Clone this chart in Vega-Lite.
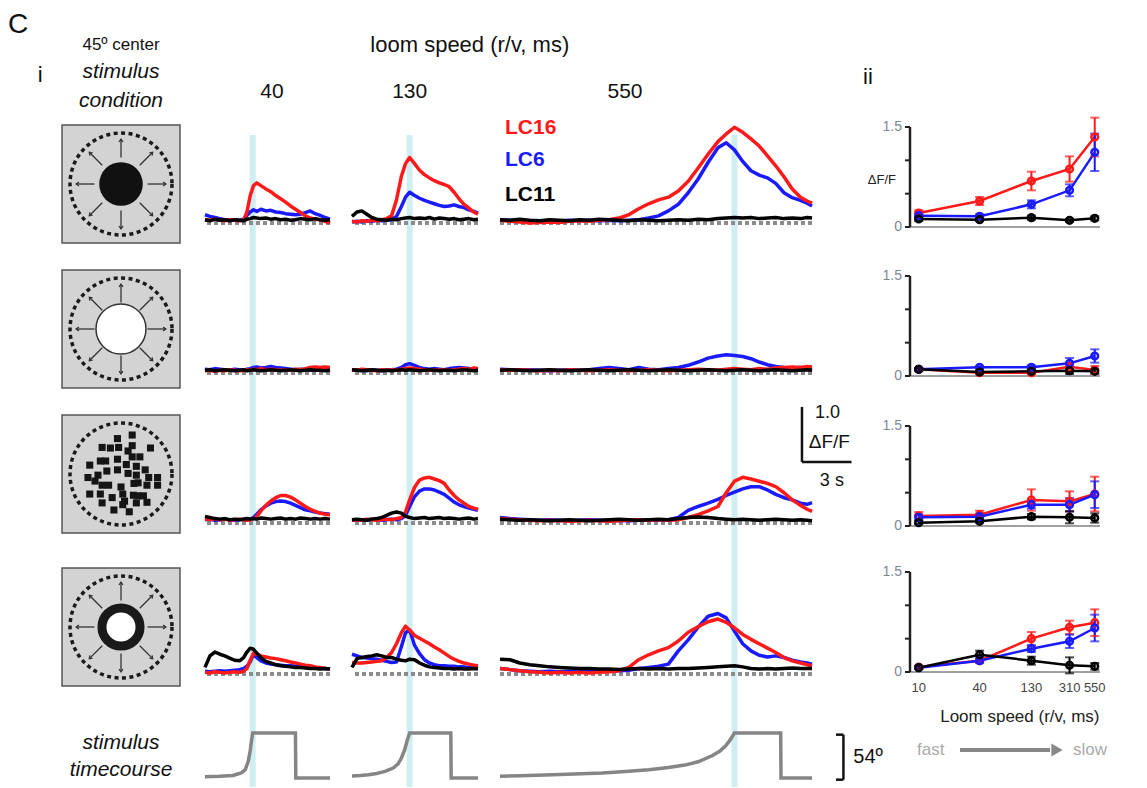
{
"$schema":"https://vega.github.io/schema/vega-lite/v6.json",
"padding":{"left":8,"top":11,"right":5,"bottom":0},
"config":{"font":"Liberation Sans","view":{"stroke":null},"text":{"font":"Liberation Sans","color":"#111"},"axis":{"grid":false,"labelFont":"Liberation Sans","titleFont":"Liberation Sans"}},
"datasets":{
"one":[{"k":1}],
"xt":[{"x":10},{"x":40},{"x":130},{"x":310},{"x":550}],
"yt":[{"v":0},{"v":0.5},{"v":1},{"v":1.5}],
"yl":[{"v":0,"l":"0"},{"v":1.5,"l":"1.5"}],
"arr":[{"x":0.45,"y":0,"x2":0.76,"y2":0,"d":"E"},{"x":0.318,"y":0.318,"x2":0.537,"y2":0.537,"d":"NE"},{"x":0,"y":0.45,"x2":0,"y2":0.76,"d":"N"},{"x":-0.318,"y":0.318,"x2":-0.537,"y2":0.537,"d":"NW"},{"x":-0.45,"y":0,"x2":-0.76,"y2":0,"d":"W"},{"x":-0.318,"y":-0.318,"x2":-0.537,"y2":-0.537,"d":"SW"},{"x":0,"y":-0.45,"x2":0,"y2":-0.76,"d":"S"},{"x":0.318,"y":-0.318,"x2":0.537,"y2":-0.537,"d":"SE"}],
"sq":[{"x":-0.06,"y":0.6},{"x":0.19,"y":0.66},{"x":-0.32,"y":0.45},{"x":-0.18,"y":0.44},{"x":-0.04,"y":0.45},{"x":0.19,"y":0.48},{"x":0.5,"y":0.44},{"x":0.12,"y":0.39},{"x":-0.35,"y":0.22},{"x":-0.26,"y":0.22},{"x":-0.06,"y":0.25},{"x":0.19,"y":0.29},{"x":0.32,"y":0.29},{"x":-0.53,"y":0.15},{"x":0.09,"y":0.16},{"x":0.26,"y":0.13},{"x":0.41,"y":0.07},{"x":-0.39,"y":-0.02},{"x":-0.24,"y":0.05},{"x":-0.06,"y":0.07},{"x":0.12,"y":0.01},{"x":0.26,"y":-0.02},{"x":-0.56,"y":-0.06},{"x":0.22,"y":-0.16},{"x":0.47,"y":-0.06},{"x":0.62,"y":-0.06},{"x":-0.32,"y":-0.19},{"x":-0.21,"y":-0.19},{"x":0.0,"y":-0.22},{"x":0.29,"y":-0.15},{"x":0.44,"y":-0.19},{"x":0.62,"y":-0.19},{"x":-0.53,"y":-0.34},{"x":-0.35,"y":-0.34},{"x":0.03,"y":-0.34},{"x":0.21,"y":-0.36},{"x":0.29,"y":-0.37},{"x":-0.15,"y":-0.4},{"x":0.06,"y":-0.46},{"x":0.44,"y":-0.48},{"x":-0.32,"y":-0.49},{"x":0.03,"y":-0.52},{"x":-0.12,"y":-0.61},{"x":0.14,"y":-0.64},{"x":0.26,"y":-0.49},{"x":-0.44,"y":-0.12},{"x":0.38,"y":-0.37}],
"tc":[
{"s":40,"t":-2.9,"deg":1.5},{"s":40,"t":-2.0,"deg":2},{"s":40,"t":-1.2,"deg":3},{"s":40,"t":-0.7,"deg":6},{"s":40,"t":-0.45,"deg":10},{"s":40,"t":-0.27,"deg":20},{"s":40,"t":-0.15,"deg":33},{"s":40,"t":-0.07,"deg":45},{"s":40,"t":0,"deg":54},{"s":40,"t":2.6,"deg":54},{"s":40,"t":2.62,"deg":0},{"s":40,"t":4.7,"deg":0},
{"s":130,"t":-3.5,"deg":2.5},{"s":130,"t":-3.0,"deg":3},{"s":130,"t":-2.5,"deg":4},{"s":130,"t":-2.0,"deg":5.5},{"s":130,"t":-1.5,"deg":8},{"s":130,"t":-1.0,"deg":12},{"s":130,"t":-0.7,"deg":17},{"s":130,"t":-0.5,"deg":24},{"s":130,"t":-0.3,"deg":34},{"s":130,"t":-0.15,"deg":45},{"s":130,"t":0,"deg":54},{"s":130,"t":2.5,"deg":54},{"s":130,"t":2.52,"deg":0},{"s":130,"t":4.15,"deg":0},
{"s":550,"t":-14.2,"deg":2},{"s":550,"t":-13.0,"deg":2.7},{"s":550,"t":-11.0,"deg":3.8},{"s":550,"t":-9.3,"deg":5},{"s":550,"t":-8.0,"deg":6},{"s":550,"t":-6.6,"deg":7.7},{"s":550,"t":-5.2,"deg":10},{"s":550,"t":-4.0,"deg":12.7},{"s":550,"t":-3.0,"deg":15.5},{"s":550,"t":-2.2,"deg":19.5},{"s":550,"t":-1.33,"deg":27},{"s":550,"t":-0.9,"deg":32},{"s":550,"t":-0.53,"deg":38.6},{"s":550,"t":-0.25,"deg":46},{"s":550,"t":0,"deg":54},{"s":550,"t":2.8,"deg":54},{"s":550,"t":2.82,"deg":0},{"s":550,"t":4.7,"deg":0}],
"sm":[
{"r":1,"c":"LC16","x":10,"m":0.21,"lo":0.17,"hi":0.25},{"r":1,"c":"LC16","x":40,"m":0.39,"lo":0.33,"hi":0.45},{"r":1,"c":"LC16","x":130,"m":0.69,"lo":0.55,"hi":0.83},{"r":1,"c":"LC16","x":310,"m":0.87,"lo":0.68,"hi":1.06},{"r":1,"c":"LC16","x":550,"m":1.35,"lo":1.06,"hi":1.64},
{"r":1,"c":"LC6","x":10,"m":0.17,"lo":0.14,"hi":0.2},{"r":1,"c":"LC6","x":40,"m":0.16,"lo":0.13,"hi":0.19},{"r":1,"c":"LC6","x":130,"m":0.34,"lo":0.28,"hi":0.4},{"r":1,"c":"LC6","x":310,"m":0.55,"lo":0.46,"hi":0.64},{"r":1,"c":"LC6","x":550,"m":1.12,"lo":0.84,"hi":1.4},
{"r":1,"c":"LC11","x":10,"m":0.12,"lo":0.09,"hi":0.15},{"r":1,"c":"LC11","x":40,"m":0.11,"lo":0.09,"hi":0.13},{"r":1,"c":"LC11","x":130,"m":0.14,"lo":0.11,"hi":0.17},{"r":1,"c":"LC11","x":310,"m":0.1,"lo":0.08,"hi":0.12},{"r":1,"c":"LC11","x":550,"m":0.13,"lo":0.1,"hi":0.16},
{"r":2,"c":"LC16","x":10,"m":0.1,"lo":0.08,"hi":0.12},{"r":2,"c":"LC16","x":40,"m":0.05,"lo":0.03,"hi":0.07},{"r":2,"c":"LC16","x":130,"m":0.05,"lo":0.03,"hi":0.07},{"r":2,"c":"LC16","x":310,"m":0.14,"lo":0.1,"hi":0.18},{"r":2,"c":"LC16","x":550,"m":0.09,"lo":0.03,"hi":0.15},
{"r":2,"c":"LC6","x":10,"m":0.1,"lo":0.08,"hi":0.12},{"r":2,"c":"LC6","x":40,"m":0.13,"lo":0.11,"hi":0.15},{"r":2,"c":"LC6","x":130,"m":0.13,"lo":0.1,"hi":0.16},{"r":2,"c":"LC6","x":310,"m":0.19,"lo":0.11,"hi":0.27},{"r":2,"c":"LC6","x":550,"m":0.3,"lo":0.2,"hi":0.4},
{"r":2,"c":"LC11","x":10,"m":0.1,"lo":0.08,"hi":0.12},{"r":2,"c":"LC11","x":40,"m":0.06,"lo":0.04,"hi":0.08},{"r":2,"c":"LC11","x":130,"m":0.07,"lo":0.05,"hi":0.09},{"r":2,"c":"LC11","x":310,"m":0.08,"lo":0.03,"hi":0.13},{"r":2,"c":"LC11","x":550,"m":0.07,"lo":0.04,"hi":0.1},
{"r":3,"c":"LC16","x":10,"m":0.15,"lo":0.09,"hi":0.21},{"r":3,"c":"LC16","x":40,"m":0.17,"lo":0.11,"hi":0.23},{"r":3,"c":"LC16","x":130,"m":0.39,"lo":0.23,"hi":0.55},{"r":3,"c":"LC16","x":310,"m":0.37,"lo":0.22,"hi":0.52},{"r":3,"c":"LC16","x":550,"m":0.48,"lo":0.22,"hi":0.74},
{"r":3,"c":"LC6","x":10,"m":0.13,"lo":0.09,"hi":0.17},{"r":3,"c":"LC6","x":40,"m":0.14,"lo":0.1,"hi":0.18},{"r":3,"c":"LC6","x":130,"m":0.32,"lo":0.26,"hi":0.38},{"r":3,"c":"LC6","x":310,"m":0.32,"lo":0.22,"hi":0.42},{"r":3,"c":"LC6","x":550,"m":0.47,"lo":0.27,"hi":0.67},
{"r":3,"c":"LC11","x":10,"m":0.05,"lo":0.03,"hi":0.07},{"r":3,"c":"LC11","x":40,"m":0.07,"lo":0.05,"hi":0.09},{"r":3,"c":"LC11","x":130,"m":0.14,"lo":0.1,"hi":0.18},{"r":3,"c":"LC11","x":310,"m":0.13,"lo":0.04,"hi":0.22},{"r":3,"c":"LC11","x":550,"m":0.12,"lo":0.05,"hi":0.19},
{"r":4,"c":"LC16","x":10,"m":0.075,"lo":0.055,"hi":0.095},{"r":4,"c":"LC16","x":40,"m":0.17,"lo":0.14,"hi":0.2},{"r":4,"c":"LC16","x":130,"m":0.5,"lo":0.4,"hi":0.6},{"r":4,"c":"LC16","x":310,"m":0.67,"lo":0.57,"hi":0.77},{"r":4,"c":"LC16","x":550,"m":0.74,"lo":0.54,"hi":0.94},
{"r":4,"c":"LC6","x":10,"m":0.065,"lo":0.045,"hi":0.085},{"r":4,"c":"LC6","x":40,"m":0.17,"lo":0.14,"hi":0.2},{"r":4,"c":"LC6","x":130,"m":0.35,"lo":0.3,"hi":0.4},{"r":4,"c":"LC6","x":310,"m":0.46,"lo":0.36,"hi":0.56},{"r":4,"c":"LC6","x":550,"m":0.66,"lo":0.46,"hi":0.86},
{"r":4,"c":"LC11","x":10,"m":0.065,"lo":0.045,"hi":0.085},{"r":4,"c":"LC11","x":40,"m":0.26,"lo":0.2,"hi":0.32},{"r":4,"c":"LC11","x":130,"m":0.17,"lo":0.11,"hi":0.23},{"r":4,"c":"LC11","x":310,"m":0.1,"lo":-0.02,"hi":0.22},{"r":4,"c":"LC11","x":550,"m":0.085,"lo":0.035,"hi":0.135}],
"tr":[
{"r":1,"s":40,"t":-2.9,"LC16":0.06,"LC6":0.15,"LC11":0.06},{"r":1,"s":40,"t":-2.6,"LC16":0.05,"LC6":0.12,"LC11":0.04},{"r":1,"s":40,"t":-2.3,"LC16":0.07,"LC6":0.1,"LC11":0.07},{"r":1,"s":40,"t":-2.0,"LC16":0.05,"LC6":0.08,"LC11":0.05},{"r":1,"s":40,"t":-1.7,"LC16":0.04,"LC6":0.06,"LC11":0.06},{"r":1,"s":40,"t":-1.4,"LC16":0.06,"LC6":0.05,"LC11":0.04},{"r":1,"s":40,"t":-1.1,"LC16":0.05,"LC6":0.06,"LC11":0.06},{"r":1,"s":40,"t":-0.8,"LC16":0.04,"LC6":0.05,"LC11":0.05},{"r":1,"s":40,"t":-0.55,"LC16":0.05,"LC6":0.07,"LC11":0.04},{"r":1,"s":40,"t":-0.35,"LC16":0.2,"LC6":0.14,"LC11":0.07},{"r":1,"s":40,"t":-0.15,"LC16":0.5,"LC6":0.2,"LC11":0.08},{"r":1,"s":40,"t":0.05,"LC16":0.68,"LC6":0.24,"LC11":0.1},{"r":1,"s":40,"t":0.25,"LC16":0.73,"LC6":0.21,"LC11":0.09},{"r":1,"s":40,"t":0.5,"LC16":0.68,"LC6":0.25,"LC11":0.08},{"r":1,"s":40,"t":0.8,"LC16":0.62,"LC6":0.22,"LC11":0.09},{"r":1,"s":40,"t":1.1,"LC16":0.57,"LC6":0.23,"LC11":0.07},{"r":1,"s":40,"t":1.4,"LC16":0.5,"LC6":0.2,"LC11":0.08},{"r":1,"s":40,"t":1.7,"LC16":0.44,"LC6":0.19,"LC11":0.06},{"r":1,"s":40,"t":2.0,"LC16":0.38,"LC6":0.17,"LC11":0.07},{"r":1,"s":40,"t":2.3,"LC16":0.31,"LC6":0.16,"LC11":0.05},{"r":1,"s":40,"t":2.6,"LC16":0.25,"LC6":0.15,"LC11":0.06},{"r":1,"s":40,"t":2.9,"LC16":0.19,"LC6":0.16,"LC11":0.08},{"r":1,"s":40,"t":3.2,"LC16":0.13,"LC6":0.19,"LC11":0.07},{"r":1,"s":40,"t":3.5,"LC16":0.09,"LC6":0.22,"LC11":0.06},{"r":1,"s":40,"t":3.8,"LC16":0.07,"LC6":0.17,"LC11":0.08},{"r":1,"s":40,"t":4.1,"LC16":0.06,"LC6":0.14,"LC11":0.06},{"r":1,"s":40,"t":4.4,"LC16":0.03,"LC6":0.1,"LC11":0.05},{"r":1,"s":40,"t":4.7,"LC16":0.0,"LC6":0.07,"LC11":0.06},
{"r":1,"s":130,"t":-3.5,"LC16":0.03,"LC6":0.02,"LC11":0.12},{"r":1,"s":130,"t":-3.2,"LC16":0.02,"LC6":0.03,"LC11":0.2},{"r":1,"s":130,"t":-2.9,"LC16":0.04,"LC6":0.02,"LC11":0.22},{"r":1,"s":130,"t":-2.6,"LC16":0.03,"LC6":0.04,"LC11":0.16},{"r":1,"s":130,"t":-2.3,"LC16":0.05,"LC6":0.03,"LC11":0.1},{"r":1,"s":130,"t":-2.0,"LC16":0.04,"LC6":0.05,"LC11":0.07},{"r":1,"s":130,"t":-1.7,"LC16":0.06,"LC6":0.04,"LC11":0.06},{"r":1,"s":130,"t":-1.4,"LC16":0.08,"LC6":0.05,"LC11":0.05},{"r":1,"s":130,"t":-1.1,"LC16":0.13,"LC6":0.06,"LC11":0.07},{"r":1,"s":130,"t":-0.8,"LC16":0.42,"LC6":0.12,"LC11":0.06},{"r":1,"s":130,"t":-0.5,"LC16":0.85,"LC6":0.3,"LC11":0.08},{"r":1,"s":130,"t":-0.25,"LC16":1.08,"LC6":0.47,"LC11":0.09},{"r":1,"s":130,"t":0,"LC16":1.19,"LC6":0.56,"LC11":0.1},{"r":1,"s":130,"t":0.3,"LC16":1.08,"LC6":0.5,"LC11":0.08},{"r":1,"s":130,"t":0.6,"LC16":0.96,"LC6":0.45,"LC11":0.09},{"r":1,"s":130,"t":0.9,"LC16":0.88,"LC6":0.41,"LC11":0.08},{"r":1,"s":130,"t":1.2,"LC16":0.82,"LC6":0.38,"LC11":0.1},{"r":1,"s":130,"t":1.5,"LC16":0.77,"LC6":0.35,"LC11":0.07},{"r":1,"s":130,"t":1.8,"LC16":0.73,"LC6":0.32,"LC11":0.09},{"r":1,"s":130,"t":2.1,"LC16":0.7,"LC6":0.3,"LC11":0.08},{"r":1,"s":130,"t":2.4,"LC16":0.66,"LC6":0.31,"LC11":0.07},{"r":1,"s":130,"t":2.7,"LC16":0.56,"LC6":0.33,"LC11":0.08},{"r":1,"s":130,"t":3.0,"LC16":0.44,"LC6":0.3,"LC11":0.06},{"r":1,"s":130,"t":3.3,"LC16":0.34,"LC6":0.28,"LC11":0.07},{"r":1,"s":130,"t":3.6,"LC16":0.27,"LC6":0.24,"LC11":0.08},{"r":1,"s":130,"t":3.9,"LC16":0.2,"LC6":0.21,"LC11":0.06},{"r":1,"s":130,"t":4.15,"LC16":0.16,"LC6":0.18,"LC11":0.07},
{"r":1,"s":550,"t":-14.2,"LC16":0.05,"LC6":0.06,"LC11":0.06},{"r":1,"s":550,"t":-13.6,"LC16":0.03,"LC6":0.05,"LC11":0.05},{"r":1,"s":550,"t":-13.0,"LC16":0.02,"LC6":0.04,"LC11":0.07},{"r":1,"s":550,"t":-12.4,"LC16":0.0,"LC6":0.02,"LC11":0.05},{"r":1,"s":550,"t":-11.8,"LC16":0.01,"LC6":0.03,"LC11":0.04},{"r":1,"s":550,"t":-11.2,"LC16":0.02,"LC6":0.02,"LC11":0.06},{"r":1,"s":550,"t":-10.6,"LC16":0.01,"LC6":0.03,"LC11":0.05},{"r":1,"s":550,"t":-10.0,"LC16":0.03,"LC6":0.05,"LC11":0.04},{"r":1,"s":550,"t":-9.4,"LC16":0.04,"LC6":0.04,"LC11":0.06},{"r":1,"s":550,"t":-8.8,"LC16":0.03,"LC6":0.05,"LC11":0.05},{"r":1,"s":550,"t":-8.2,"LC16":0.05,"LC6":0.04,"LC11":0.07},{"r":1,"s":550,"t":-7.6,"LC16":0.06,"LC6":0.05,"LC11":0.06},{"r":1,"s":550,"t":-7.0,"LC16":0.09,"LC6":0.04,"LC11":0.05},{"r":1,"s":550,"t":-6.4,"LC16":0.15,"LC6":0.05,"LC11":0.04},{"r":1,"s":550,"t":-5.8,"LC16":0.26,"LC6":0.06,"LC11":0.06},{"r":1,"s":550,"t":-5.2,"LC16":0.35,"LC6":0.09,"LC11":0.05},{"r":1,"s":550,"t":-4.6,"LC16":0.42,"LC6":0.13,"LC11":0.04},{"r":1,"s":550,"t":-4.0,"LC16":0.47,"LC6":0.22,"LC11":0.05},{"r":1,"s":550,"t":-3.4,"LC16":0.58,"LC6":0.34,"LC11":0.06},{"r":1,"s":550,"t":-2.8,"LC16":0.76,"LC6":0.55,"LC11":0.05},{"r":1,"s":550,"t":-2.2,"LC16":1.0,"LC6":0.8,"LC11":0.07},{"r":1,"s":550,"t":-1.6,"LC16":1.25,"LC6":1.1,"LC11":0.06},{"r":1,"s":550,"t":-1.0,"LC16":1.48,"LC6":1.37,"LC11":0.08},{"r":1,"s":550,"t":-0.5,"LC16":1.62,"LC6":1.46,"LC11":0.09},{"r":1,"s":550,"t":0,"LC16":1.74,"LC6":1.33,"LC11":0.1},{"r":1,"s":550,"t":0.5,"LC16":1.65,"LC6":1.12,"LC11":0.09},{"r":1,"s":550,"t":1.0,"LC16":1.53,"LC6":0.95,"LC11":0.1},{"r":1,"s":550,"t":1.5,"LC16":1.4,"LC6":0.87,"LC11":0.08},{"r":1,"s":550,"t":2.0,"LC16":1.22,"LC6":0.82,"LC11":0.09},{"r":1,"s":550,"t":2.5,"LC16":1.04,"LC6":0.72,"LC11":0.1},{"r":1,"s":550,"t":3.0,"LC16":0.84,"LC6":0.55,"LC11":0.08},{"r":1,"s":550,"t":3.5,"LC16":0.62,"LC6":0.46,"LC11":0.09},{"r":1,"s":550,"t":4.0,"LC16":0.47,"LC6":0.41,"LC11":0.08},{"r":1,"s":550,"t":4.4,"LC16":0.4,"LC6":0.36,"LC11":0.1},{"r":1,"s":550,"t":4.7,"LC16":0.36,"LC6":0.31,"LC11":0.09},
{"r":2,"s":40,"t":-2.9,"LC16":0.04,"LC6":0.07,"LC11":0.05},{"r":2,"s":40,"t":-2.6,"LC16":0.05,"LC6":0.06,"LC11":0.06},{"r":2,"s":40,"t":-2.3,"LC16":0.03,"LC6":0.08,"LC11":0.04},{"r":2,"s":40,"t":-2.0,"LC16":0.05,"LC6":0.07,"LC11":0.05},{"r":2,"s":40,"t":-1.7,"LC16":0.04,"LC6":0.06,"LC11":0.06},{"r":2,"s":40,"t":-1.4,"LC16":0.06,"LC6":0.05,"LC11":0.05},{"r":2,"s":40,"t":-1.1,"LC16":0.05,"LC6":0.07,"LC11":0.04},{"r":2,"s":40,"t":-0.8,"LC16":0.04,"LC6":0.06,"LC11":0.05},{"r":2,"s":40,"t":-0.55,"LC16":0.05,"LC6":0.05,"LC11":0.06},{"r":2,"s":40,"t":-0.35,"LC16":0.06,"LC6":0.07,"LC11":0.04},{"r":2,"s":40,"t":-0.15,"LC16":0.05,"LC6":0.08,"LC11":0.05},{"r":2,"s":40,"t":0.05,"LC16":0.07,"LC6":0.1,"LC11":0.06},{"r":2,"s":40,"t":0.25,"LC16":0.06,"LC6":0.11,"LC11":0.05},{"r":2,"s":40,"t":0.5,"LC16":0.08,"LC6":0.09,"LC11":0.04},{"r":2,"s":40,"t":0.8,"LC16":0.06,"LC6":0.1,"LC11":0.05},{"r":2,"s":40,"t":1.1,"LC16":0.07,"LC6":0.12,"LC11":0.06},{"r":2,"s":40,"t":1.4,"LC16":0.06,"LC6":0.1,"LC11":0.05},{"r":2,"s":40,"t":1.7,"LC16":0.05,"LC6":0.09,"LC11":0.04},{"r":2,"s":40,"t":2.0,"LC16":0.06,"LC6":0.08,"LC11":0.05},{"r":2,"s":40,"t":2.3,"LC16":0.05,"LC6":0.07,"LC11":0.06},{"r":2,"s":40,"t":2.6,"LC16":0.07,"LC6":0.06,"LC11":0.05},{"r":2,"s":40,"t":2.9,"LC16":0.06,"LC6":0.07,"LC11":0.04},{"r":2,"s":40,"t":3.2,"LC16":0.08,"LC6":0.06,"LC11":0.05},{"r":2,"s":40,"t":3.5,"LC16":0.1,"LC6":0.05,"LC11":0.06},{"r":2,"s":40,"t":3.8,"LC16":0.11,"LC6":0.06,"LC11":0.05},{"r":2,"s":40,"t":4.1,"LC16":0.1,"LC6":0.07,"LC11":0.05},{"r":2,"s":40,"t":4.4,"LC16":0.11,"LC6":0.05,"LC11":0.04},{"r":2,"s":40,"t":4.7,"LC16":0.1,"LC6":0.06,"LC11":0.05},
{"r":2,"s":130,"t":-3.5,"LC16":0.06,"LC6":0.05,"LC11":0.06},{"r":2,"s":130,"t":-3.2,"LC16":0.05,"LC6":0.06,"LC11":0.05},{"r":2,"s":130,"t":-2.9,"LC16":0.07,"LC6":0.05,"LC11":0.04},{"r":2,"s":130,"t":-2.6,"LC16":0.06,"LC6":0.04,"LC11":0.05},{"r":2,"s":130,"t":-2.3,"LC16":0.05,"LC6":0.06,"LC11":0.06},{"r":2,"s":130,"t":-2.0,"LC16":0.04,"LC6":0.05,"LC11":0.05},{"r":2,"s":130,"t":-1.7,"LC16":0.06,"LC6":0.04,"LC11":0.04},{"r":2,"s":130,"t":-1.4,"LC16":0.05,"LC6":0.05,"LC11":0.05},{"r":2,"s":130,"t":-1.1,"LC16":0.06,"LC6":0.06,"LC11":0.04},{"r":2,"s":130,"t":-0.8,"LC16":0.05,"LC6":0.07,"LC11":0.05},{"r":2,"s":130,"t":-0.5,"LC16":0.07,"LC6":0.1,"LC11":0.06},{"r":2,"s":130,"t":-0.25,"LC16":0.08,"LC6":0.15,"LC11":0.05},{"r":2,"s":130,"t":0,"LC16":0.09,"LC6":0.17,"LC11":0.06},{"r":2,"s":130,"t":0.3,"LC16":0.08,"LC6":0.14,"LC11":0.05},{"r":2,"s":130,"t":0.6,"LC16":0.07,"LC6":0.1,"LC11":0.04},{"r":2,"s":130,"t":0.9,"LC16":0.06,"LC6":0.08,"LC11":0.05},{"r":2,"s":130,"t":1.2,"LC16":0.05,"LC6":0.07,"LC11":0.06},{"r":2,"s":130,"t":1.5,"LC16":0.06,"LC6":0.08,"LC11":0.05},{"r":2,"s":130,"t":1.8,"LC16":0.05,"LC6":0.07,"LC11":0.04},{"r":2,"s":130,"t":2.1,"LC16":0.06,"LC6":0.06,"LC11":0.05},{"r":2,"s":130,"t":2.4,"LC16":0.05,"LC6":0.08,"LC11":0.05},{"r":2,"s":130,"t":2.7,"LC16":0.06,"LC6":0.09,"LC11":0.04},{"r":2,"s":130,"t":3.0,"LC16":0.07,"LC6":0.1,"LC11":0.05},{"r":2,"s":130,"t":3.3,"LC16":0.08,"LC6":0.09,"LC11":0.06},{"r":2,"s":130,"t":3.6,"LC16":0.07,"LC6":0.08,"LC11":0.05},{"r":2,"s":130,"t":3.9,"LC16":0.09,"LC6":0.07,"LC11":0.04},{"r":2,"s":130,"t":4.15,"LC16":0.08,"LC6":0.06,"LC11":0.05},
{"r":2,"s":550,"t":-14.2,"LC16":0.06,"LC6":0.07,"LC11":0.05},{"r":2,"s":550,"t":-13.6,"LC16":0.05,"LC6":0.06,"LC11":0.06},{"r":2,"s":550,"t":-13.0,"LC16":0.06,"LC6":0.05,"LC11":0.05},{"r":2,"s":550,"t":-12.4,"LC16":0.05,"LC6":0.06,"LC11":0.04},{"r":2,"s":550,"t":-11.8,"LC16":0.04,"LC6":0.05,"LC11":0.05},{"r":2,"s":550,"t":-11.2,"LC16":0.05,"LC6":0.04,"LC11":0.06},{"r":2,"s":550,"t":-10.6,"LC16":0.04,"LC6":0.05,"LC11":0.05},{"r":2,"s":550,"t":-10.0,"LC16":0.06,"LC6":0.06,"LC11":0.04},{"r":2,"s":550,"t":-9.4,"LC16":0.05,"LC6":0.05,"LC11":0.05},{"r":2,"s":550,"t":-8.8,"LC16":0.04,"LC6":0.06,"LC11":0.06},{"r":2,"s":550,"t":-8.2,"LC16":0.05,"LC6":0.08,"LC11":0.05},{"r":2,"s":550,"t":-7.6,"LC16":0.06,"LC6":0.1,"LC11":0.04},{"r":2,"s":550,"t":-7.0,"LC16":0.05,"LC6":0.08,"LC11":0.05},{"r":2,"s":550,"t":-6.4,"LC16":0.04,"LC6":0.06,"LC11":0.06},{"r":2,"s":550,"t":-5.8,"LC16":0.05,"LC6":0.1,"LC11":0.05},{"r":2,"s":550,"t":-5.2,"LC16":0.06,"LC6":0.07,"LC11":0.04},{"r":2,"s":550,"t":-4.6,"LC16":0.05,"LC6":0.06,"LC11":0.05},{"r":2,"s":550,"t":-4.0,"LC16":0.04,"LC6":0.08,"LC11":0.06},{"r":2,"s":550,"t":-3.4,"LC16":0.05,"LC6":0.1,"LC11":0.05},{"r":2,"s":550,"t":-2.8,"LC16":0.06,"LC6":0.14,"LC11":0.04},{"r":2,"s":550,"t":-2.2,"LC16":0.07,"LC6":0.2,"LC11":0.05},{"r":2,"s":550,"t":-1.6,"LC16":0.06,"LC6":0.27,"LC11":0.06},{"r":2,"s":550,"t":-1.0,"LC16":0.05,"LC6":0.31,"LC11":0.05},{"r":2,"s":550,"t":-0.5,"LC16":0.07,"LC6":0.33,"LC11":0.04},{"r":2,"s":550,"t":0,"LC16":0.08,"LC6":0.32,"LC11":0.05},{"r":2,"s":550,"t":0.5,"LC16":0.07,"LC6":0.3,"LC11":0.06},{"r":2,"s":550,"t":1.0,"LC16":0.06,"LC6":0.26,"LC11":0.05},{"r":2,"s":550,"t":1.5,"LC16":0.08,"LC6":0.2,"LC11":0.04},{"r":2,"s":550,"t":2.0,"LC16":0.07,"LC6":0.15,"LC11":0.05},{"r":2,"s":550,"t":2.5,"LC16":0.09,"LC6":0.12,"LC11":0.06},{"r":2,"s":550,"t":3.0,"LC16":0.1,"LC6":0.1,"LC11":0.05},{"r":2,"s":550,"t":3.5,"LC16":0.11,"LC6":0.09,"LC11":0.04},{"r":2,"s":550,"t":4.0,"LC16":0.1,"LC6":0.1,"LC11":0.05},{"r":2,"s":550,"t":4.4,"LC16":0.12,"LC6":0.08,"LC11":0.06},{"r":2,"s":550,"t":4.7,"LC16":0.11,"LC6":0.09,"LC11":0.05},
{"r":3,"s":40,"t":-2.9,"LC16":0.07,"LC6":0.06,"LC11":0.12},{"r":3,"s":40,"t":-2.6,"LC16":0.06,"LC6":0.07,"LC11":0.1},{"r":3,"s":40,"t":-2.3,"LC16":0.08,"LC6":0.05,"LC11":0.08},{"r":3,"s":40,"t":-2.0,"LC16":0.06,"LC6":0.06,"LC11":0.07},{"r":3,"s":40,"t":-1.7,"LC16":0.07,"LC6":0.07,"LC11":0.08},{"r":3,"s":40,"t":-1.4,"LC16":0.05,"LC6":0.06,"LC11":0.06},{"r":3,"s":40,"t":-1.1,"LC16":0.06,"LC6":0.05,"LC11":0.07},{"r":3,"s":40,"t":-0.8,"LC16":0.07,"LC6":0.06,"LC11":0.06},{"r":3,"s":40,"t":-0.55,"LC16":0.06,"LC6":0.07,"LC11":0.07},{"r":3,"s":40,"t":-0.35,"LC16":0.05,"LC6":0.06,"LC11":0.08},{"r":3,"s":40,"t":-0.15,"LC16":0.06,"LC6":0.07,"LC11":0.07},{"r":3,"s":40,"t":0.05,"LC16":0.08,"LC6":0.1,"LC11":0.08},{"r":3,"s":40,"t":0.25,"LC16":0.12,"LC6":0.16,"LC11":0.07},{"r":3,"s":40,"t":0.5,"LC16":0.22,"LC6":0.24,"LC11":0.09},{"r":3,"s":40,"t":0.8,"LC16":0.32,"LC6":0.31,"LC11":0.08},{"r":3,"s":40,"t":1.1,"LC16":0.4,"LC6":0.36,"LC11":0.07},{"r":3,"s":40,"t":1.4,"LC16":0.46,"LC6":0.39,"LC11":0.08},{"r":3,"s":40,"t":1.7,"LC16":0.5,"LC6":0.4,"LC11":0.09},{"r":3,"s":40,"t":2.0,"LC16":0.5,"LC6":0.39,"LC11":0.07},{"r":3,"s":40,"t":2.3,"LC16":0.47,"LC6":0.36,"LC11":0.08},{"r":3,"s":40,"t":2.6,"LC16":0.42,"LC6":0.32,"LC11":0.07},{"r":3,"s":40,"t":2.9,"LC16":0.36,"LC6":0.28,"LC11":0.09},{"r":3,"s":40,"t":3.2,"LC16":0.3,"LC6":0.24,"LC11":0.08},{"r":3,"s":40,"t":3.5,"LC16":0.25,"LC6":0.22,"LC11":0.07},{"r":3,"s":40,"t":3.8,"LC16":0.21,"LC6":0.2,"LC11":0.08},{"r":3,"s":40,"t":4.1,"LC16":0.18,"LC6":0.18,"LC11":0.07},{"r":3,"s":40,"t":4.4,"LC16":0.16,"LC6":0.17,"LC11":0.08},{"r":3,"s":40,"t":4.7,"LC16":0.15,"LC6":0.16,"LC11":0.07},
{"r":3,"s":130,"t":-3.5,"LC16":0.05,"LC6":0.06,"LC11":0.06},{"r":3,"s":130,"t":-3.2,"LC16":0.06,"LC6":0.05,"LC11":0.07},{"r":3,"s":130,"t":-2.9,"LC16":0.05,"LC6":0.06,"LC11":0.06},{"r":3,"s":130,"t":-2.6,"LC16":0.07,"LC6":0.05,"LC11":0.05},{"r":3,"s":130,"t":-2.3,"LC16":0.06,"LC6":0.07,"LC11":0.07},{"r":3,"s":130,"t":-2.0,"LC16":0.05,"LC6":0.06,"LC11":0.08},{"r":3,"s":130,"t":-1.7,"LC16":0.06,"LC6":0.05,"LC11":0.1},{"r":3,"s":130,"t":-1.4,"LC16":0.07,"LC6":0.06,"LC11":0.14},{"r":3,"s":130,"t":-1.1,"LC16":0.06,"LC6":0.07,"LC11":0.18},{"r":3,"s":130,"t":-0.8,"LC16":0.08,"LC6":0.06,"LC11":0.2},{"r":3,"s":130,"t":-0.5,"LC16":0.1,"LC6":0.08,"LC11":0.18},{"r":3,"s":130,"t":-0.25,"LC16":0.2,"LC6":0.14,"LC11":0.12},{"r":3,"s":130,"t":0,"LC16":0.42,"LC6":0.3,"LC11":0.1},{"r":3,"s":130,"t":0.3,"LC16":0.65,"LC6":0.48,"LC11":0.08},{"r":3,"s":130,"t":0.6,"LC16":0.78,"LC6":0.58,"LC11":0.09},{"r":3,"s":130,"t":0.9,"LC16":0.82,"LC6":0.62,"LC11":0.1},{"r":3,"s":130,"t":1.2,"LC16":0.83,"LC6":0.62,"LC11":0.08},{"r":3,"s":130,"t":1.5,"LC16":0.8,"LC6":0.6,"LC11":0.09},{"r":3,"s":130,"t":1.8,"LC16":0.77,"LC6":0.56,"LC11":0.1},{"r":3,"s":130,"t":2.1,"LC16":0.72,"LC6":0.52,"LC11":0.08},{"r":3,"s":130,"t":2.4,"LC16":0.6,"LC6":0.45,"LC11":0.09},{"r":3,"s":130,"t":2.7,"LC16":0.5,"LC6":0.38,"LC11":0.08},{"r":3,"s":130,"t":3.0,"LC16":0.42,"LC6":0.33,"LC11":0.07},{"r":3,"s":130,"t":3.3,"LC16":0.36,"LC6":0.3,"LC11":0.08},{"r":3,"s":130,"t":3.6,"LC16":0.3,"LC6":0.27,"LC11":0.09},{"r":3,"s":130,"t":3.9,"LC16":0.27,"LC6":0.25,"LC11":0.07},{"r":3,"s":130,"t":4.15,"LC16":0.25,"LC6":0.23,"LC11":0.08},
{"r":3,"s":550,"t":-14.2,"LC16":0.08,"LC6":0.1,"LC11":0.07},{"r":3,"s":550,"t":-13.6,"LC16":0.07,"LC6":0.08,"LC11":0.06},{"r":3,"s":550,"t":-13.0,"LC16":0.06,"LC6":0.07,"LC11":0.05},{"r":3,"s":550,"t":-12.4,"LC16":0.05,"LC6":0.06,"LC11":0.06},{"r":3,"s":550,"t":-11.8,"LC16":0.04,"LC6":0.05,"LC11":0.05},{"r":3,"s":550,"t":-11.2,"LC16":0.05,"LC6":0.06,"LC11":0.04},{"r":3,"s":550,"t":-10.6,"LC16":0.04,"LC6":0.05,"LC11":0.05},{"r":3,"s":550,"t":-10.0,"LC16":0.03,"LC6":0.04,"LC11":0.06},{"r":3,"s":550,"t":-9.4,"LC16":0.04,"LC6":0.05,"LC11":0.05},{"r":3,"s":550,"t":-8.8,"LC16":0.05,"LC6":0.06,"LC11":0.04},{"r":3,"s":550,"t":-8.2,"LC16":0.04,"LC6":0.05,"LC11":0.05},{"r":3,"s":550,"t":-7.6,"LC16":0.03,"LC6":0.04,"LC11":0.06},{"r":3,"s":550,"t":-7.0,"LC16":0.04,"LC6":0.05,"LC11":0.07},{"r":3,"s":550,"t":-6.4,"LC16":0.05,"LC6":0.04,"LC11":0.06},{"r":3,"s":550,"t":-5.8,"LC16":0.06,"LC6":0.05,"LC11":0.05},{"r":3,"s":550,"t":-5.2,"LC16":0.05,"LC6":0.06,"LC11":0.06},{"r":3,"s":550,"t":-4.6,"LC16":0.06,"LC6":0.05,"LC11":0.07},{"r":3,"s":550,"t":-4.0,"LC16":0.05,"LC6":0.06,"LC11":0.06},{"r":3,"s":550,"t":-3.4,"LC16":0.06,"LC6":0.1,"LC11":0.08},{"r":3,"s":550,"t":-2.8,"LC16":0.1,"LC6":0.23,"LC11":0.1},{"r":3,"s":550,"t":-2.2,"LC16":0.15,"LC6":0.3,"LC11":0.11},{"r":3,"s":550,"t":-1.6,"LC16":0.22,"LC6":0.36,"LC11":0.1},{"r":3,"s":550,"t":-1.0,"LC16":0.3,"LC6":0.43,"LC11":0.08},{"r":3,"s":550,"t":-0.5,"LC16":0.55,"LC6":0.5,"LC11":0.07},{"r":3,"s":550,"t":0,"LC16":0.76,"LC6":0.56,"LC11":0.06},{"r":3,"s":550,"t":0.5,"LC16":0.83,"LC6":0.62,"LC11":0.07},{"r":3,"s":550,"t":1.0,"LC16":0.8,"LC6":0.66,"LC11":0.06},{"r":3,"s":550,"t":1.5,"LC16":0.76,"LC6":0.66,"LC11":0.05},{"r":3,"s":550,"t":2.0,"LC16":0.72,"LC6":0.6,"LC11":0.06},{"r":3,"s":550,"t":2.5,"LC16":0.66,"LC6":0.52,"LC11":0.07},{"r":3,"s":550,"t":3.0,"LC16":0.55,"LC6":0.46,"LC11":0.06},{"r":3,"s":550,"t":3.5,"LC16":0.42,"LC6":0.42,"LC11":0.05},{"r":3,"s":550,"t":4.0,"LC16":0.32,"LC6":0.36,"LC11":0.06},{"r":3,"s":550,"t":4.4,"LC16":0.25,"LC6":0.34,"LC11":0.05},{"r":3,"s":550,"t":4.7,"LC16":0.21,"LC6":0.37,"LC11":0.04},
{"r":4,"s":40,"t":-2.9,"LC16":0.03,"LC6":0.05,"LC11":0.12},{"r":4,"s":40,"t":-2.6,"LC16":0.02,"LC6":0.04,"LC11":0.33},{"r":4,"s":40,"t":-2.3,"LC16":0.04,"LC6":0.05,"LC11":0.4},{"r":4,"s":40,"t":-2.0,"LC16":0.03,"LC6":0.06,"LC11":0.36},{"r":4,"s":40,"t":-1.7,"LC16":0.02,"LC6":0.05,"LC11":0.33},{"r":4,"s":40,"t":-1.4,"LC16":0.03,"LC6":0.06,"LC11":0.29},{"r":4,"s":40,"t":-1.1,"LC16":0.04,"LC6":0.07,"LC11":0.25},{"r":4,"s":40,"t":-0.8,"LC16":0.03,"LC6":0.08,"LC11":0.24},{"r":4,"s":40,"t":-0.55,"LC16":0.05,"LC6":0.1,"LC11":0.3},{"r":4,"s":40,"t":-0.35,"LC16":0.1,"LC6":0.14,"LC11":0.4},{"r":4,"s":40,"t":-0.15,"LC16":0.25,"LC6":0.22,"LC11":0.47},{"r":4,"s":40,"t":0.05,"LC16":0.38,"LC6":0.36,"LC11":0.45},{"r":4,"s":40,"t":0.25,"LC16":0.36,"LC6":0.3,"LC11":0.38},{"r":4,"s":40,"t":0.5,"LC16":0.33,"LC6":0.24,"LC11":0.3},{"r":4,"s":40,"t":0.8,"LC16":0.31,"LC6":0.2,"LC11":0.23},{"r":4,"s":40,"t":1.1,"LC16":0.29,"LC6":0.18,"LC11":0.2},{"r":4,"s":40,"t":1.4,"LC16":0.28,"LC6":0.17,"LC11":0.17},{"r":4,"s":40,"t":1.7,"LC16":0.26,"LC6":0.16,"LC11":0.15},{"r":4,"s":40,"t":2.0,"LC16":0.24,"LC6":0.15,"LC11":0.14},{"r":4,"s":40,"t":2.3,"LC16":0.22,"LC6":0.15,"LC11":0.13},{"r":4,"s":40,"t":2.6,"LC16":0.2,"LC6":0.14,"LC11":0.12},{"r":4,"s":40,"t":2.9,"LC16":0.18,"LC6":0.14,"LC11":0.12},{"r":4,"s":40,"t":3.2,"LC16":0.16,"LC6":0.13,"LC11":0.11},{"r":4,"s":40,"t":3.5,"LC16":0.15,"LC6":0.12,"LC11":0.1},{"r":4,"s":40,"t":3.8,"LC16":0.13,"LC6":0.11,"LC11":0.1},{"r":4,"s":40,"t":4.1,"LC16":0.12,"LC6":0.1,"LC11":0.09},{"r":4,"s":40,"t":4.4,"LC16":0.1,"LC6":0.1,"LC11":0.1},{"r":4,"s":40,"t":4.7,"LC16":0.09,"LC6":0.09,"LC11":0.09},
{"r":4,"s":130,"t":-3.5,"LC16":0.21,"LC6":0.36,"LC11":0.12},{"r":4,"s":130,"t":-3.2,"LC16":0.2,"LC6":0.33,"LC11":0.28},{"r":4,"s":130,"t":-2.9,"LC16":0.2,"LC6":0.3,"LC11":0.3},{"r":4,"s":130,"t":-2.6,"LC16":0.21,"LC6":0.29,"LC11":0.32},{"r":4,"s":130,"t":-2.3,"LC16":0.22,"LC6":0.28,"LC11":0.33},{"r":4,"s":130,"t":-2.0,"LC16":0.23,"LC6":0.27,"LC11":0.35},{"r":4,"s":130,"t":-1.7,"LC16":0.24,"LC6":0.25,"LC11":0.33},{"r":4,"s":130,"t":-1.4,"LC16":0.3,"LC6":0.23,"LC11":0.3},{"r":4,"s":130,"t":-1.1,"LC16":0.39,"LC6":0.21,"LC11":0.3},{"r":4,"s":130,"t":-0.8,"LC16":0.55,"LC6":0.22,"LC11":0.27},{"r":4,"s":130,"t":-0.5,"LC16":0.75,"LC6":0.5,"LC11":0.25},{"r":4,"s":130,"t":-0.25,"LC16":0.87,"LC6":0.75,"LC11":0.24},{"r":4,"s":130,"t":0,"LC16":0.8,"LC6":0.8,"LC11":0.27},{"r":4,"s":130,"t":0.3,"LC16":0.7,"LC6":0.52,"LC11":0.26},{"r":4,"s":130,"t":0.6,"LC16":0.65,"LC6":0.37,"LC11":0.2},{"r":4,"s":130,"t":0.9,"LC16":0.6,"LC6":0.26,"LC11":0.16},{"r":4,"s":130,"t":1.2,"LC16":0.55,"LC6":0.2,"LC11":0.13},{"r":4,"s":130,"t":1.5,"LC16":0.49,"LC6":0.17,"LC11":0.12},{"r":4,"s":130,"t":1.8,"LC16":0.44,"LC6":0.15,"LC11":0.11},{"r":4,"s":130,"t":2.1,"LC16":0.38,"LC6":0.15,"LC11":0.1},{"r":4,"s":130,"t":2.4,"LC16":0.32,"LC6":0.14,"LC11":0.1},{"r":4,"s":130,"t":2.7,"LC16":0.27,"LC6":0.14,"LC11":0.09},{"r":4,"s":130,"t":3.0,"LC16":0.23,"LC6":0.13,"LC11":0.1},{"r":4,"s":130,"t":3.3,"LC16":0.2,"LC6":0.13,"LC11":0.09},{"r":4,"s":130,"t":3.6,"LC16":0.18,"LC6":0.12,"LC11":0.09},{"r":4,"s":130,"t":3.9,"LC16":0.16,"LC6":0.12,"LC11":0.1},{"r":4,"s":130,"t":4.15,"LC16":0.15,"LC6":0.12,"LC11":0.09},
{"r":4,"s":550,"t":-14.2,"LC16":0.1,"LC6":0.1,"LC11":0.27},{"r":4,"s":550,"t":-13.6,"LC16":0.08,"LC6":0.08,"LC11":0.26},{"r":4,"s":550,"t":-13.0,"LC16":0.06,"LC6":0.06,"LC11":0.2},{"r":4,"s":550,"t":-12.4,"LC16":0.04,"LC6":0.05,"LC11":0.17},{"r":4,"s":550,"t":-11.8,"LC16":0.03,"LC6":0.04,"LC11":0.15},{"r":4,"s":550,"t":-11.2,"LC16":0.02,"LC6":0.05,"LC11":0.13},{"r":4,"s":550,"t":-10.6,"LC16":0.03,"LC6":0.04,"LC11":0.12},{"r":4,"s":550,"t":-10.0,"LC16":0.02,"LC6":0.05,"LC11":0.11},{"r":4,"s":550,"t":-9.4,"LC16":0.03,"LC6":0.04,"LC11":0.1},{"r":4,"s":550,"t":-8.8,"LC16":0.02,"LC6":0.05,"LC11":0.1},{"r":4,"s":550,"t":-8.2,"LC16":0.03,"LC6":0.06,"LC11":0.09},{"r":4,"s":550,"t":-7.6,"LC16":0.04,"LC6":0.05,"LC11":0.09},{"r":4,"s":550,"t":-7.0,"LC16":0.06,"LC6":0.06,"LC11":0.08},{"r":4,"s":550,"t":-6.4,"LC16":0.12,"LC6":0.07,"LC11":0.09},{"r":4,"s":550,"t":-5.8,"LC16":0.26,"LC6":0.1,"LC11":0.1},{"r":4,"s":550,"t":-5.2,"LC16":0.35,"LC6":0.12,"LC11":0.09},{"r":4,"s":550,"t":-4.6,"LC16":0.42,"LC6":0.14,"LC11":0.1},{"r":4,"s":550,"t":-4.0,"LC16":0.48,"LC6":0.18,"LC11":0.09},{"r":4,"s":550,"t":-3.4,"LC16":0.6,"LC6":0.42,"LC11":0.1},{"r":4,"s":550,"t":-2.8,"LC16":0.76,"LC6":0.62,"LC11":0.1},{"r":4,"s":550,"t":-2.2,"LC16":0.86,"LC6":0.85,"LC11":0.11},{"r":4,"s":550,"t":-1.6,"LC16":0.95,"LC6":1.05,"LC11":0.12},{"r":4,"s":550,"t":-1.0,"LC16":1.0,"LC6":1.1,"LC11":0.13},{"r":4,"s":550,"t":-0.5,"LC16":0.94,"LC6":1.02,"LC11":0.14},{"r":4,"s":550,"t":0,"LC16":0.84,"LC6":0.78,"LC11":0.15},{"r":4,"s":550,"t":0.5,"LC16":0.72,"LC6":0.55,"LC11":0.13},{"r":4,"s":550,"t":1.0,"LC16":0.63,"LC6":0.42,"LC11":0.1},{"r":4,"s":550,"t":1.5,"LC16":0.55,"LC6":0.34,"LC11":0.09},{"r":4,"s":550,"t":2.0,"LC16":0.47,"LC6":0.31,"LC11":0.1},{"r":4,"s":550,"t":2.5,"LC16":0.39,"LC6":0.33,"LC11":0.09},{"r":4,"s":550,"t":3.0,"LC16":0.3,"LC6":0.3,"LC11":0.1},{"r":4,"s":550,"t":3.5,"LC16":0.24,"LC6":0.25,"LC11":0.11},{"r":4,"s":550,"t":4.0,"LC16":0.2,"LC6":0.22,"LC11":0.1},{"r":4,"s":550,"t":4.4,"LC16":0.17,"LC6":0.2,"LC11":0.1},{"r":4,"s":550,"t":4.7,"LC16":0.15,"LC6":0.18,"LC11":0.1}]
},
"columns":5,
"bounds":"flush",
"align":"each",
"spacing":{"row":0,"column":22},
"concat":[
 {"width":121,"height":149,"layer":[
  {"data":{"name":"one"},"mark":{"type":"rect","fill":"#d3d3d3","stroke":"#555555","strokeWidth":1.5},"encoding":{"x":{"datum":-1,"type":"quantitative","scale":{"domain":[-1,1.051],"nice":false,"zero":false},"axis":null},"x2":{"datum":1},"y":{"datum":-1,"type":"quantitative","scale":{"domain":[-1.525,1],"nice":false,"zero":false},"axis":null},"y2":{"datum":1}}},
  {"data":{"name":"one"},"mark":{"type":"point","shape":"circle","size":10400,"filled":false,"stroke":"#1a1a1a","strokeWidth":3.5,"strokeDash":[4,3.5],"opacity":1},"encoding":{"x":{"datum":0,"axis":null},"y":{"datum":0,"axis":null}}},
  {"data":{"name":"one"},"mark":{"type":"point","shape":"circle","size":1900,"filled":true,"color":"#111111","opacity":1},"encoding":{"x":{"datum":0,"axis":null},"y":{"datum":0,"axis":null}}},
  {"data":{"name":"arr"},"mark":{"type":"rule","stroke":"#333333","strokeWidth":1.3},"encoding":{"x":{"field":"x","type":"quantitative","axis":null},"y":{"field":"y","type":"quantitative","axis":null},"x2":{"field":"x2"},"y2":{"field":"y2"}}},
  {"data":{"name":"arr"},"mark":{"type":"point","filled":false,"stroke":"#333333","strokeWidth":1.3,"size":45,"opacity":1},"encoding":{"x":{"field":"x2","type":"quantitative","axis":null},"y":{"field":"y2","type":"quantitative","axis":null},"shape":{"field":"d","type":"nominal","scale":{"domain":["E","NE","N","NW","W","SW","S","SE"],"range":["M-0.82,-0.57L0,0L-0.82,0.57","M-0.98,0.17L0,0L-0.17,0.98","M-0.57,0.82L0,0L0.57,0.82","M0.17,0.98L0,0L0.98,0.17","M0.82,-0.57L0,0L0.82,0.57","M0.98,-0.17L0,0L0.17,-0.98","M-0.57,-0.82L0,0L0.57,-0.82","M-0.17,-0.98L0,0L-0.98,-0.17"]},"legend":null}}},
  {"data":{"name":"one"},"mark":{"type":"text","text":"C","fontSize":28,"align":"left"},"encoding":{"x":{"datum":-1.915,"axis":null},"y":{"datum":2.69,"axis":null}}},
  {"data":{"name":"one"},"mark":{"type":"text","text":"i","fontSize":22},"encoding":{"x":{"datum":-1.37,"axis":null},"y":{"datum":1.85,"axis":null}}},
  {"data":{"name":"one"},"mark":{"type":"text","text":"45º center","fontSize":17},"encoding":{"x":{"datum":0,"axis":null},"y":{"datum":2.36,"axis":null}}},
  {"data":{"name":"one"},"mark":{"type":"text","text":"stimulus","fontSize":21,"fontStyle":"italic"},"encoding":{"x":{"datum":0,"axis":null},"y":{"datum":1.9,"axis":null}}},
  {"data":{"name":"one"},"mark":{"type":"text","text":"condition","fontSize":21,"fontStyle":"italic"},"encoding":{"x":{"datum":0,"axis":null},"y":{"datum":1.41,"axis":null}}}
 ]},
 {"width":125,"height":149,"layer":[
  {"data":{"name":"one"},"mark":{"type":"rule","stroke":"#cfeef1","strokeWidth":6},"encoding":{"x":{"datum":0,"axis":null},"y":{"datum":1.6,"axis":null},"y2":{"datum":-0.927}}},
  {"data":{"name":"one"},"mark":{"type":"rule","stroke":"#8c8c8c","strokeWidth":4,"strokeDash":[4,3]},"encoding":{"y":{"datum":0,"axis":null}}},
  {"data":{"name":"tr"},"transform":[{"filter":"datum.r==1 && datum.s==40"},{"fold":["LC6","LC16","LC11"],"as":["c","v"]}],"mark":{"type":"line","strokeWidth":3.5,"strokeJoin":"round"},"encoding":{"x":{"field":"t","type":"quantitative","scale":{"domain":[-2.9,4.7],"nice":false,"zero":false},"axis":null},"y":{"field":"v","type":"quantitative","scale":{"domain":[-0.927,1.782],"nice":false,"zero":false},"axis":null},"color":{"field":"c","type":"nominal","scale":{"domain":["LC16","LC6","LC11"],"range":["#ff1a1a","#1a1aff","#000000"]},"legend":null}}},
  {"data":{"name":"one"},"mark":{"type":"text","text":"40","fontSize":21},"encoding":{"x":{"datum":1.17,"axis":null},"y":{"datum":2.38,"axis":null}}}
 ]},
 {"width":126,"height":149,"layer":[
  {"data":{"name":"one"},"mark":{"type":"rule","stroke":"#cfeef1","strokeWidth":6},"encoding":{"x":{"datum":0,"axis":null},"y":{"datum":1.6,"axis":null},"y2":{"datum":-0.927}}},
  {"data":{"name":"one"},"mark":{"type":"rule","stroke":"#8c8c8c","strokeWidth":4,"strokeDash":[4,3]},"encoding":{"y":{"datum":0,"axis":null}}},
  {"data":{"name":"tr"},"transform":[{"filter":"datum.r==1 && datum.s==130"},{"fold":["LC6","LC16","LC11"],"as":["c","v"]}],"mark":{"type":"line","strokeWidth":3.5,"strokeJoin":"round"},"encoding":{"x":{"field":"t","type":"quantitative","scale":{"domain":[-3.5,4.15],"nice":false,"zero":false},"axis":null},"y":{"field":"v","type":"quantitative","scale":{"domain":[-0.927,1.782],"nice":false,"zero":false},"axis":null},"color":{"field":"c","type":"nominal","legend":null}}},
  {"data":{"name":"one"},"mark":{"type":"text","text":"130","fontSize":21},"encoding":{"x":{"datum":0,"axis":null},"y":{"datum":2.38,"axis":null}}},
  {"data":{"name":"one"},"mark":{"type":"text","text":"loom speed (r/v, ms)","fontSize":22},"encoding":{"x":{"datum":3.65,"axis":null},"y":{"datum":3.24,"axis":null}}}
 ]},
 {"width":388,"height":149,"layer":[
  {"data":{"name":"one"},"mark":{"type":"rule","stroke":"#cfeef1","strokeWidth":6},"encoding":{"x":{"datum":0,"axis":null},"y":{"datum":1.6,"axis":null},"y2":{"datum":-0.927}}},
  {"data":{"name":"one"},"mark":{"type":"rule","stroke":"#8c8c8c","strokeWidth":4,"strokeDash":[4,3]},"encoding":{"x":{"datum":-14.2,"axis":null},"x2":{"datum":4.7},"y":{"datum":0,"axis":null}}},
  {"data":{"name":"tr"},"transform":[{"filter":"datum.r==1 && datum.s==550"},{"fold":["LC6","LC16","LC11"],"as":["c","v"]}],"mark":{"type":"line","strokeWidth":3.5,"strokeJoin":"round"},"encoding":{"x":{"field":"t","type":"quantitative","scale":{"domain":[-14.2,9.3],"nice":false,"zero":false},"axis":null},"y":{"field":"v","type":"quantitative","scale":{"domain":[-0.927,1.782],"nice":false,"zero":false},"axis":null},"color":{"field":"c","type":"nominal","legend":null}}},
  {"data":{"name":"one"},"mark":{"type":"text","text":"550","fontSize":21},"encoding":{"x":{"datum":-6.63,"axis":null},"y":{"datum":2.38,"axis":null}}},
  {"data":{"name":"one"},"mark":{"type":"text","text":"LC16","fontSize":21,"fontWeight":"bold","align":"left","color":"#ff1a1a"},"encoding":{"x":{"datum":-13.9,"axis":null},"y":{"datum":1.73,"axis":null}}},
  {"data":{"name":"one"},"mark":{"type":"text","text":"LC6","fontSize":21,"fontWeight":"bold","align":"left","color":"#1a1aff"},"encoding":{"x":{"datum":-13.9,"axis":null},"y":{"datum":1.15,"axis":null}}},
  {"data":{"name":"one"},"mark":{"type":"text","text":"LC11","fontSize":21,"fontWeight":"bold","align":"left","color":"#000000"},"encoding":{"x":{"datum":-13.9,"axis":null},"y":{"datum":0.51,"axis":null}}}
 ]},
 {"width":190,"height":149,"layer":[
  {"data":{"name":"one"},"mark":{"type":"rule","stroke":"#a0a0a0","strokeWidth":2},"encoding":{"y":{"datum":0,"axis":null}}},
  {"data":{"name":"sm"},"transform":[{"filter":"datum.r==1"}],"mark":{"type":"line","strokeWidth":2.5},"encoding":{"x":{"field":"x","type":"quantitative","scale":{"type":"log","domain":[8.2,620],"nice":false},"axis":null},"y":{"field":"m","type":"quantitative","scale":{"domain":[-0.705,1.53],"nice":false,"zero":false},"axis":null},"color":{"field":"c","type":"nominal","scale":{"domain":["LC16","LC6","LC11"],"range":["#ff1a1a","#1a1aff","#000000"]},"legend":null}}},
  {"data":{"name":"sm"},"transform":[{"filter":"datum.r==1"}],"mark":{"type":"rule","strokeWidth":2},"encoding":{"x":{"field":"x","type":"quantitative","axis":null},"y":{"field":"lo","type":"quantitative","axis":null},"y2":{"field":"hi"},"color":{"field":"c","type":"nominal","legend":null}}},
  {"data":{"name":"sm"},"transform":[{"filter":"datum.r==1"}],"mark":{"type":"tick","orient":"horizontal","size":9,"thickness":2},"encoding":{"x":{"field":"x","type":"quantitative","axis":null},"y":{"field":"lo","type":"quantitative","axis":null},"color":{"field":"c","type":"nominal","legend":null}}},
  {"data":{"name":"sm"},"transform":[{"filter":"datum.r==1"}],"mark":{"type":"tick","orient":"horizontal","size":9,"thickness":2},"encoding":{"x":{"field":"x","type":"quantitative","axis":null},"y":{"field":"hi","type":"quantitative","axis":null},"color":{"field":"c","type":"nominal","legend":null}}},
  {"data":{"name":"sm"},"transform":[{"filter":"datum.r==1"}],"mark":{"type":"point","filled":false,"size":45,"strokeWidth":2.5,"opacity":1},"encoding":{"x":{"field":"x","type":"quantitative","axis":null},"y":{"field":"m","type":"quantitative","axis":null},"color":{"field":"c","type":"nominal","legend":null}}},
  {"data":{"name":"one"},"mark":{"type":"rule","stroke":"#222222","strokeWidth":2.5},"encoding":{"x":{"datum":8.2,"axis":null},"y":{"datum":0,"axis":null},"y2":{"datum":1.5}}},
  {"data":{"name":"yt"},"mark":{"type":"rule","stroke":"#222222","strokeWidth":2},"encoding":{"x":{"datum":7.31,"axis":null},"x2":{"datum":8.2},"y":{"field":"v","type":"quantitative","axis":null}}},
  {"data":{"name":"yl"},"mark":{"type":"text","fontSize":14,"align":"right","baseline":"middle","color":"#7d8798"},"encoding":{"x":{"datum":6.84,"axis":null},"y":{"field":"v","type":"quantitative","axis":null},"text":{"field":"l","type":"nominal"}}},
  {"data":{"name":"one"},"mark":{"type":"text","text":"ΔF/F","fontSize":13,"align":"right","color":"#222222"},"encoding":{"x":{"datum":5.96,"axis":null},"y":{"datum":0.7,"axis":null}}},
  {"data":{"name":"one"},"mark":{"type":"text","text":"ii","fontSize":22},"encoding":{"x":{"datum":3.15,"axis":null},"y":{"datum":2.25,"axis":null}}}
 ]},

 {"width":121,"height":150,"layer":[
  {"data":{"name":"one"},"mark":{"type":"rect","fill":"#d3d3d3","stroke":"#555555","strokeWidth":1.5},"encoding":{"x":{"datum":-1,"type":"quantitative","scale":{"domain":[-1,1.051],"nice":false,"zero":false},"axis":null},"x2":{"datum":1},"y":{"datum":-1,"type":"quantitative","scale":{"domain":[-1.61,0.932],"nice":false,"zero":false},"axis":null},"y2":{"datum":1}}},
  {"data":{"name":"one"},"mark":{"type":"point","shape":"circle","size":10400,"filled":false,"stroke":"#1a1a1a","strokeWidth":3.5,"strokeDash":[4,3.5],"opacity":1},"encoding":{"x":{"datum":0,"axis":null},"y":{"datum":0,"axis":null}}},
  {"data":{"name":"one"},"mark":{"type":"point","shape":"circle","size":2500,"filled":true,"fill":"#ffffff","stroke":"#333333","strokeWidth":1.5,"opacity":1},"encoding":{"x":{"datum":0,"axis":null},"y":{"datum":0,"axis":null}}},
  {"data":{"name":"arr"},"mark":{"type":"rule","stroke":"#333333","strokeWidth":1.3},"encoding":{"x":{"field":"x","type":"quantitative","axis":null},"y":{"field":"y","type":"quantitative","axis":null},"x2":{"field":"x2"},"y2":{"field":"y2"}}},
  {"data":{"name":"arr"},"mark":{"type":"point","filled":false,"stroke":"#333333","strokeWidth":1.3,"size":45,"opacity":1},"encoding":{"x":{"field":"x2","type":"quantitative","axis":null},"y":{"field":"y2","type":"quantitative","axis":null},"shape":{"field":"d","type":"nominal","legend":null}}}
 ]},
 {"width":125,"height":150,"layer":[
  {"data":{"name":"one"},"mark":{"type":"rule","stroke":"#cfeef1","strokeWidth":6},"encoding":{"x":{"datum":0,"axis":null}}},
  {"data":{"name":"one"},"mark":{"type":"rule","stroke":"#8c8c8c","strokeWidth":4,"strokeDash":[4,3]},"encoding":{"y":{"datum":0,"axis":null}}},
  {"data":{"name":"tr"},"transform":[{"filter":"datum.r==2 && datum.s==40"},{"fold":["LC6","LC16","LC11"],"as":["c","v"]}],"mark":{"type":"line","strokeWidth":3.5,"strokeJoin":"round"},"encoding":{"x":{"field":"t","type":"quantitative","scale":{"domain":[-2.9,4.7],"nice":false,"zero":false},"axis":null},"y":{"field":"v","type":"quantitative","scale":{"domain":[-0.927,1.8],"nice":false,"zero":false},"axis":null},"color":{"field":"c","type":"nominal","legend":null}}}
 ]},
 {"width":126,"height":150,"layer":[
  {"data":{"name":"one"},"mark":{"type":"rule","stroke":"#cfeef1","strokeWidth":6},"encoding":{"x":{"datum":0,"axis":null}}},
  {"data":{"name":"one"},"mark":{"type":"rule","stroke":"#8c8c8c","strokeWidth":4,"strokeDash":[4,3]},"encoding":{"y":{"datum":0,"axis":null}}},
  {"data":{"name":"tr"},"transform":[{"filter":"datum.r==2 && datum.s==130"},{"fold":["LC6","LC16","LC11"],"as":["c","v"]}],"mark":{"type":"line","strokeWidth":3.5,"strokeJoin":"round"},"encoding":{"x":{"field":"t","type":"quantitative","scale":{"domain":[-3.5,4.15],"nice":false,"zero":false},"axis":null},"y":{"field":"v","type":"quantitative","scale":{"domain":[-0.927,1.8],"nice":false,"zero":false},"axis":null},"color":{"field":"c","type":"nominal","legend":null}}}
 ]},
 {"width":388,"height":150,"layer":[
  {"data":{"name":"one"},"mark":{"type":"rule","stroke":"#cfeef1","strokeWidth":6},"encoding":{"x":{"datum":0,"axis":null}}},
  {"data":{"name":"one"},"mark":{"type":"rule","stroke":"#8c8c8c","strokeWidth":4,"strokeDash":[4,3]},"encoding":{"x":{"datum":-14.2,"axis":null},"x2":{"datum":4.7},"y":{"datum":0,"axis":null}}},
  {"data":{"name":"tr"},"transform":[{"filter":"datum.r==2 && datum.s==550"},{"fold":["LC6","LC16","LC11"],"as":["c","v"]}],"mark":{"type":"line","strokeWidth":3.5,"strokeJoin":"round"},"encoding":{"x":{"field":"t","type":"quantitative","scale":{"domain":[-14.2,9.3],"nice":false,"zero":false},"axis":null},"y":{"field":"v","type":"quantitative","scale":{"domain":[-0.927,1.8],"nice":false,"zero":false},"axis":null},"color":{"field":"c","type":"nominal","legend":null}}}
 ]},
 {"width":190,"height":150,"layer":[
  {"data":{"name":"one"},"mark":{"type":"rule","stroke":"#a0a0a0","strokeWidth":2},"encoding":{"y":{"datum":0,"axis":null}}},
  {"data":{"name":"sm"},"transform":[{"filter":"datum.r==2"}],"mark":{"type":"line","strokeWidth":2.5},"encoding":{"x":{"field":"x","type":"quantitative","scale":{"type":"log","domain":[8.2,620],"nice":false},"axis":null},"y":{"field":"m","type":"quantitative","scale":{"domain":[-0.72,1.53],"nice":false,"zero":false},"axis":null},"color":{"field":"c","type":"nominal","legend":null}}},
  {"data":{"name":"sm"},"transform":[{"filter":"datum.r==2"}],"mark":{"type":"rule","strokeWidth":2},"encoding":{"x":{"field":"x","type":"quantitative","axis":null},"y":{"field":"lo","type":"quantitative","axis":null},"y2":{"field":"hi"},"color":{"field":"c","type":"nominal","legend":null}}},
  {"data":{"name":"sm"},"transform":[{"filter":"datum.r==2"}],"mark":{"type":"tick","orient":"horizontal","size":9,"thickness":2},"encoding":{"x":{"field":"x","type":"quantitative","axis":null},"y":{"field":"lo","type":"quantitative","axis":null},"color":{"field":"c","type":"nominal","legend":null}}},
  {"data":{"name":"sm"},"transform":[{"filter":"datum.r==2"}],"mark":{"type":"tick","orient":"horizontal","size":9,"thickness":2},"encoding":{"x":{"field":"x","type":"quantitative","axis":null},"y":{"field":"hi","type":"quantitative","axis":null},"color":{"field":"c","type":"nominal","legend":null}}},
  {"data":{"name":"sm"},"transform":[{"filter":"datum.r==2"}],"mark":{"type":"point","filled":false,"size":45,"strokeWidth":2.5,"opacity":1},"encoding":{"x":{"field":"x","type":"quantitative","axis":null},"y":{"field":"m","type":"quantitative","axis":null},"color":{"field":"c","type":"nominal","legend":null}}},
  {"data":{"name":"one"},"mark":{"type":"rule","stroke":"#222222","strokeWidth":2.5},"encoding":{"x":{"datum":8.2,"axis":null},"y":{"datum":0,"axis":null},"y2":{"datum":1.5}}},
  {"data":{"name":"yt"},"mark":{"type":"rule","stroke":"#222222","strokeWidth":2},"encoding":{"x":{"datum":7.31,"axis":null},"x2":{"datum":8.2},"y":{"field":"v","type":"quantitative","axis":null}}},
  {"data":{"name":"yl"},"mark":{"type":"text","fontSize":14,"align":"right","baseline":"middle","color":"#7d8798"},"encoding":{"x":{"datum":6.84,"axis":null},"y":{"field":"v","type":"quantitative","axis":null},"text":{"field":"l","type":"nominal"}}}
 ]},

 {"width":121,"height":146,"layer":[
  {"data":{"name":"one"},"mark":{"type":"rect","fill":"#d3d3d3","stroke":"#555555","strokeWidth":1.5},"encoding":{"x":{"datum":-1,"type":"quantitative","scale":{"domain":[-1,1.051],"nice":false,"zero":false},"axis":null},"x2":{"datum":1},"y":{"datum":-1,"type":"quantitative","scale":{"domain":[-1.627,0.847],"nice":false,"zero":false},"axis":null},"y2":{"datum":1}}},
  {"data":{"name":"one"},"mark":{"type":"point","shape":"circle","size":10400,"filled":false,"stroke":"#1a1a1a","strokeWidth":3.5,"strokeDash":[4,3.5],"opacity":1},"encoding":{"x":{"datum":0,"axis":null},"y":{"datum":0,"axis":null}}},
  {"data":{"name":"sq"},"mark":{"type":"point","shape":"square","size":50,"filled":true,"color":"#151515","opacity":1},"encoding":{"x":{"field":"x","type":"quantitative","axis":null},"y":{"field":"y","type":"quantitative","axis":null}}}
 ]},
 {"width":125,"height":146,"layer":[
  {"data":{"name":"one"},"mark":{"type":"rule","stroke":"#cfeef1","strokeWidth":6},"encoding":{"x":{"datum":0,"axis":null}}},
  {"data":{"name":"one"},"mark":{"type":"rule","stroke":"#8c8c8c","strokeWidth":4,"strokeDash":[4,3]},"encoding":{"y":{"datum":0,"axis":null}}},
  {"data":{"name":"tr"},"transform":[{"filter":"datum.r==3 && datum.s==40"},{"fold":["LC6","LC16","LC11"],"as":["c","v"]}],"mark":{"type":"line","strokeWidth":3.5,"strokeJoin":"round"},"encoding":{"x":{"field":"t","type":"quantitative","scale":{"domain":[-2.9,4.7],"nice":false,"zero":false},"axis":null},"y":{"field":"v","type":"quantitative","scale":{"domain":[-0.855,1.8],"nice":false,"zero":false},"axis":null},"color":{"field":"c","type":"nominal","legend":null}}}
 ]},
 {"width":126,"height":146,"layer":[
  {"data":{"name":"one"},"mark":{"type":"rule","stroke":"#cfeef1","strokeWidth":6},"encoding":{"x":{"datum":0,"axis":null}}},
  {"data":{"name":"one"},"mark":{"type":"rule","stroke":"#8c8c8c","strokeWidth":4,"strokeDash":[4,3]},"encoding":{"y":{"datum":0,"axis":null}}},
  {"data":{"name":"tr"},"transform":[{"filter":"datum.r==3 && datum.s==130"},{"fold":["LC6","LC16","LC11"],"as":["c","v"]}],"mark":{"type":"line","strokeWidth":3.5,"strokeJoin":"round"},"encoding":{"x":{"field":"t","type":"quantitative","scale":{"domain":[-3.5,4.15],"nice":false,"zero":false},"axis":null},"y":{"field":"v","type":"quantitative","scale":{"domain":[-0.855,1.8],"nice":false,"zero":false},"axis":null},"color":{"field":"c","type":"nominal","legend":null}}}
 ]},
 {"width":388,"height":146,"layer":[
  {"data":{"name":"one"},"mark":{"type":"rule","stroke":"#cfeef1","strokeWidth":6},"encoding":{"x":{"datum":0,"axis":null}}},
  {"data":{"name":"one"},"mark":{"type":"rule","stroke":"#8c8c8c","strokeWidth":4,"strokeDash":[4,3]},"encoding":{"x":{"datum":-14.2,"axis":null},"x2":{"datum":4.7},"y":{"datum":0,"axis":null}}},
  {"data":{"name":"tr"},"transform":[{"filter":"datum.r==3 && datum.s==550"},{"fold":["LC6","LC16","LC11"],"as":["c","v"]}],"mark":{"type":"line","strokeWidth":3.5,"strokeJoin":"round"},"encoding":{"x":{"field":"t","type":"quantitative","scale":{"domain":[-14.2,9.3],"nice":false,"zero":false},"axis":null},"y":{"field":"v","type":"quantitative","scale":{"domain":[-0.855,1.8],"nice":false,"zero":false},"axis":null},"color":{"field":"c","type":"nominal","legend":null}}},
  {"data":{"name":"one"},"mark":{"type":"rule","stroke":"#111111","strokeWidth":2.5},"encoding":{"x":{"datum":4.09,"axis":null},"y":{"datum":1.11,"axis":null},"y2":{"datum":2.11}}},
  {"data":{"name":"one"},"mark":{"type":"rule","stroke":"#111111","strokeWidth":2.5},"encoding":{"x":{"datum":4.09,"axis":null},"x2":{"datum":7.09},"y":{"datum":1.11,"axis":null}}},
  {"data":{"name":"one"},"mark":{"type":"text","text":"1.0","fontSize":18,"align":"left"},"encoding":{"x":{"datum":4.88,"axis":null},"y":{"datum":2.0,"axis":null}}},
  {"data":{"name":"one"},"mark":{"type":"text","text":"ΔF/F","fontSize":19,"align":"left"},"encoding":{"x":{"datum":4.5,"axis":null},"y":{"datum":1.47,"axis":null}}},
  {"data":{"name":"one"},"mark":{"type":"text","text":"3 s","fontSize":18},"encoding":{"x":{"datum":5.9,"axis":null},"y":{"datum":0.76,"axis":null}}}
 ]},
 {"width":190,"height":146,"layer":[
  {"data":{"name":"one"},"mark":{"type":"rule","stroke":"#a0a0a0","strokeWidth":2},"encoding":{"y":{"datum":0,"axis":null}}},
  {"data":{"name":"sm"},"transform":[{"filter":"datum.r==3"}],"mark":{"type":"line","strokeWidth":2.5},"encoding":{"x":{"field":"x","type":"quantitative","scale":{"type":"log","domain":[8.2,620],"nice":false},"axis":null},"y":{"field":"m","type":"quantitative","scale":{"domain":[-0.66,1.53],"nice":false,"zero":false},"axis":null},"color":{"field":"c","type":"nominal","legend":null}}},
  {"data":{"name":"sm"},"transform":[{"filter":"datum.r==3"}],"mark":{"type":"rule","strokeWidth":2},"encoding":{"x":{"field":"x","type":"quantitative","axis":null},"y":{"field":"lo","type":"quantitative","axis":null},"y2":{"field":"hi"},"color":{"field":"c","type":"nominal","legend":null}}},
  {"data":{"name":"sm"},"transform":[{"filter":"datum.r==3"}],"mark":{"type":"tick","orient":"horizontal","size":9,"thickness":2},"encoding":{"x":{"field":"x","type":"quantitative","axis":null},"y":{"field":"lo","type":"quantitative","axis":null},"color":{"field":"c","type":"nominal","legend":null}}},
  {"data":{"name":"sm"},"transform":[{"filter":"datum.r==3"}],"mark":{"type":"tick","orient":"horizontal","size":9,"thickness":2},"encoding":{"x":{"field":"x","type":"quantitative","axis":null},"y":{"field":"hi","type":"quantitative","axis":null},"color":{"field":"c","type":"nominal","legend":null}}},
  {"data":{"name":"sm"},"transform":[{"filter":"datum.r==3"}],"mark":{"type":"point","filled":false,"size":45,"strokeWidth":2.5,"opacity":1},"encoding":{"x":{"field":"x","type":"quantitative","axis":null},"y":{"field":"m","type":"quantitative","axis":null},"color":{"field":"c","type":"nominal","legend":null}}},
  {"data":{"name":"one"},"mark":{"type":"rule","stroke":"#222222","strokeWidth":2.5},"encoding":{"x":{"datum":8.2,"axis":null},"y":{"datum":0,"axis":null},"y2":{"datum":1.5}}},
  {"data":{"name":"yt"},"mark":{"type":"rule","stroke":"#222222","strokeWidth":2},"encoding":{"x":{"datum":7.31,"axis":null},"x2":{"datum":8.2},"y":{"field":"v","type":"quantitative","axis":null}}},
  {"data":{"name":"yl"},"mark":{"type":"text","fontSize":14,"align":"right","baseline":"middle","color":"#7d8798"},"encoding":{"x":{"datum":6.84,"axis":null},"y":{"field":"v","type":"quantitative","axis":null},"text":{"field":"l","type":"nominal"}}}
 ]},

 {"width":121,"height":145,"layer":[
  {"data":{"name":"one"},"mark":{"type":"rect","fill":"#d3d3d3","stroke":"#555555","strokeWidth":1.5},"encoding":{"x":{"datum":-1,"type":"quantitative","scale":{"domain":[-1,1.051],"nice":false,"zero":false},"axis":null},"x2":{"datum":1},"y":{"datum":-1,"type":"quantitative","scale":{"domain":[-1.492,0.966],"nice":false,"zero":false},"axis":null},"y2":{"datum":1}}},
  {"data":{"name":"one"},"mark":{"type":"point","shape":"circle","size":10400,"filled":false,"stroke":"#1a1a1a","strokeWidth":3.5,"strokeDash":[4,3.5],"opacity":1},"encoding":{"x":{"datum":0,"axis":null},"y":{"datum":0,"axis":null}}},
  {"data":{"name":"one"},"mark":{"type":"point","shape":"circle","size":1450,"filled":true,"fill":"#ffffff","stroke":"#1a1a1a","strokeWidth":9,"opacity":1},"encoding":{"x":{"datum":0,"axis":null},"y":{"datum":0,"axis":null}}},
  {"data":{"name":"arr"},"mark":{"type":"rule","stroke":"#333333","strokeWidth":1.3},"encoding":{"x":{"field":"x","type":"quantitative","axis":null},"y":{"field":"y","type":"quantitative","axis":null},"x2":{"field":"x2"},"y2":{"field":"y2"}}},
  {"data":{"name":"arr"},"mark":{"type":"point","filled":false,"stroke":"#333333","strokeWidth":1.3,"size":45,"opacity":1},"encoding":{"x":{"field":"x2","type":"quantitative","axis":null},"y":{"field":"y2","type":"quantitative","axis":null},"shape":{"field":"d","type":"nominal","legend":null}}}
 ]},
 {"width":125,"height":145,"layer":[
  {"data":{"name":"one"},"mark":{"type":"rule","stroke":"#cfeef1","strokeWidth":6},"encoding":{"x":{"datum":0,"axis":null}}},
  {"data":{"name":"one"},"mark":{"type":"rule","stroke":"#8c8c8c","strokeWidth":4,"strokeDash":[4,3]},"encoding":{"y":{"datum":0,"axis":null}}},
  {"data":{"name":"tr"},"transform":[{"filter":"datum.r==4 && datum.s==40"},{"fold":["LC6","LC16","LC11"],"as":["c","v"]}],"mark":{"type":"line","strokeWidth":3.5,"strokeJoin":"round"},"encoding":{"x":{"field":"t","type":"quantitative","scale":{"domain":[-2.9,4.7],"nice":false,"zero":false},"axis":null},"y":{"field":"v","type":"quantitative","scale":{"domain":[-0.745,1.891],"nice":false,"zero":false},"axis":null},"color":{"field":"c","type":"nominal","legend":null}}}
 ]},
 {"width":126,"height":145,"layer":[
  {"data":{"name":"one"},"mark":{"type":"rule","stroke":"#cfeef1","strokeWidth":6},"encoding":{"x":{"datum":0,"axis":null}}},
  {"data":{"name":"one"},"mark":{"type":"rule","stroke":"#8c8c8c","strokeWidth":4,"strokeDash":[4,3]},"encoding":{"y":{"datum":0,"axis":null}}},
  {"data":{"name":"tr"},"transform":[{"filter":"datum.r==4 && datum.s==130"},{"fold":["LC6","LC16","LC11"],"as":["c","v"]}],"mark":{"type":"line","strokeWidth":3.5,"strokeJoin":"round"},"encoding":{"x":{"field":"t","type":"quantitative","scale":{"domain":[-3.5,4.15],"nice":false,"zero":false},"axis":null},"y":{"field":"v","type":"quantitative","scale":{"domain":[-0.745,1.891],"nice":false,"zero":false},"axis":null},"color":{"field":"c","type":"nominal","legend":null}}}
 ]},
 {"width":388,"height":145,"layer":[
  {"data":{"name":"one"},"mark":{"type":"rule","stroke":"#cfeef1","strokeWidth":6},"encoding":{"x":{"datum":0,"axis":null}}},
  {"data":{"name":"one"},"mark":{"type":"rule","stroke":"#8c8c8c","strokeWidth":4,"strokeDash":[4,3]},"encoding":{"x":{"datum":-14.2,"axis":null},"x2":{"datum":4.7},"y":{"datum":0,"axis":null}}},
  {"data":{"name":"tr"},"transform":[{"filter":"datum.r==4 && datum.s==550"},{"fold":["LC6","LC16","LC11"],"as":["c","v"]}],"mark":{"type":"line","strokeWidth":3.5,"strokeJoin":"round"},"encoding":{"x":{"field":"t","type":"quantitative","scale":{"domain":[-14.2,9.3],"nice":false,"zero":false},"axis":null},"y":{"field":"v","type":"quantitative","scale":{"domain":[-0.745,1.891],"nice":false,"zero":false},"axis":null},"color":{"field":"c","type":"nominal","legend":null}}}
 ]},
 {"width":190,"height":145,"layer":[
  {"data":{"name":"one"},"mark":{"type":"rule","stroke":"#a0a0a0","strokeWidth":2},"encoding":{"y":{"datum":0,"axis":null}}},
  {"data":{"name":"sm"},"transform":[{"filter":"datum.r==4"}],"mark":{"type":"line","strokeWidth":2.5},"encoding":{"x":{"field":"x","type":"quantitative","scale":{"type":"log","domain":[8.2,620],"nice":false},"axis":null},"y":{"field":"m","type":"quantitative","scale":{"domain":[-0.645,1.53],"nice":false,"zero":false},"axis":null},"color":{"field":"c","type":"nominal","legend":null}}},
  {"data":{"name":"sm"},"transform":[{"filter":"datum.r==4"}],"mark":{"type":"rule","strokeWidth":2},"encoding":{"x":{"field":"x","type":"quantitative","axis":null},"y":{"field":"lo","type":"quantitative","axis":null},"y2":{"field":"hi"},"color":{"field":"c","type":"nominal","legend":null}}},
  {"data":{"name":"sm"},"transform":[{"filter":"datum.r==4"}],"mark":{"type":"tick","orient":"horizontal","size":9,"thickness":2},"encoding":{"x":{"field":"x","type":"quantitative","axis":null},"y":{"field":"lo","type":"quantitative","axis":null},"color":{"field":"c","type":"nominal","legend":null}}},
  {"data":{"name":"sm"},"transform":[{"filter":"datum.r==4"}],"mark":{"type":"tick","orient":"horizontal","size":9,"thickness":2},"encoding":{"x":{"field":"x","type":"quantitative","axis":null},"y":{"field":"hi","type":"quantitative","axis":null},"color":{"field":"c","type":"nominal","legend":null}}},
  {"data":{"name":"sm"},"transform":[{"filter":"datum.r==4"}],"mark":{"type":"point","filled":false,"size":45,"strokeWidth":2.5,"opacity":1},"encoding":{"x":{"field":"x","type":"quantitative","axis":null},"y":{"field":"m","type":"quantitative","axis":null},"color":{"field":"c","type":"nominal","legend":null}}},
  {"data":{"name":"one"},"mark":{"type":"rule","stroke":"#222222","strokeWidth":2.5},"encoding":{"x":{"datum":8.2,"axis":null},"y":{"datum":0,"axis":null},"y2":{"datum":1.5}}},
  {"data":{"name":"yt"},"mark":{"type":"rule","stroke":"#222222","strokeWidth":2},"encoding":{"x":{"datum":7.31,"axis":null},"x2":{"datum":8.2},"y":{"field":"v","type":"quantitative","axis":null}}},
  {"data":{"name":"yl"},"mark":{"type":"text","fontSize":14,"align":"right","baseline":"middle","color":"#7d8798"},"encoding":{"x":{"datum":6.84,"axis":null},"y":{"field":"v","type":"quantitative","axis":null},"text":{"field":"l","type":"nominal"}}},
  {"data":{"name":"xt"},"mark":{"type":"text","fontSize":13,"color":"#444444","baseline":"top"},"encoding":{"x":{"field":"x","type":"quantitative","axis":null},"y":{"datum":-0.15,"axis":null},"text":{"field":"x","type":"quantitative","format":"d"}}},
  {"data":{"name":"one"},"mark":{"type":"text","text":"Loom speed (r/v, ms)","fontSize":17,"color":"#222222"},"encoding":{"x":{"datum":100,"axis":null},"y":{"datum":-0.675,"axis":null}}},
  {"data":{"name":"one"},"mark":{"type":"text","text":"fast","fontSize":17,"align":"left","color":"#aaaaaa"},"encoding":{"x":{"datum":9.62,"axis":null},"y":{"datum":-1.17,"axis":null}}},
  {"data":{"name":"one"},"mark":{"type":"rule","stroke":"#888888","strokeWidth":4},"encoding":{"x":{"datum":25.6,"axis":null},"x2":{"datum":199},"y":{"datum":-1.17,"axis":null}}},
  {"data":{"name":"one"},"mark":{"type":"point","shape":"triangle-right","size":170,"filled":true,"color":"#888888","opacity":1},"encoding":{"x":{"datum":233,"axis":null},"y":{"datum":-1.17,"axis":null}}},
  {"data":{"name":"one"},"mark":{"type":"text","text":"slow","fontSize":17,"align":"left","color":"#aaaaaa"},"encoding":{"x":{"datum":335,"axis":null},"y":{"datum":-1.17,"axis":null}}}
 ]},

 {"width":121,"height":72,"layer":[
  {"data":{"name":"one"},"mark":{"type":"text","text":"stimulus","fontSize":21,"fontStyle":"italic"},"encoding":{"x":{"datum":0,"type":"quantitative","scale":{"domain":[-1,1.051],"nice":false,"zero":false},"axis":null},"y":{"datum":44,"type":"quantitative","scale":{"domain":[0,72],"nice":false,"zero":false},"axis":null}}},
  {"data":{"name":"one"},"mark":{"type":"text","text":"timecourse","fontSize":21,"fontStyle":"italic"},"encoding":{"x":{"datum":0,"axis":null},"y":{"datum":17,"axis":null}}}
 ]},
 {"width":125,"height":72,"layer":[
  {"data":{"name":"one"},"mark":{"type":"rule","stroke":"#cfeef1","strokeWidth":6},"encoding":{"x":{"datum":0,"axis":null}}},
  {"data":{"name":"tc"},"transform":[{"filter":"datum.s==40"}],"mark":{"type":"line","color":"#858585","strokeWidth":3.5},"encoding":{"x":{"field":"t","type":"quantitative","scale":{"domain":[-2.9,4.7],"nice":false,"zero":false},"axis":null},"y":{"field":"deg","type":"quantitative","scale":{"domain":[-10.8,75.6],"nice":false,"zero":false},"axis":null}}}
 ]},
 {"width":126,"height":72,"layer":[
  {"data":{"name":"one"},"mark":{"type":"rule","stroke":"#cfeef1","strokeWidth":6},"encoding":{"x":{"datum":0,"axis":null}}},
  {"data":{"name":"tc"},"transform":[{"filter":"datum.s==130"}],"mark":{"type":"line","color":"#858585","strokeWidth":3.5},"encoding":{"x":{"field":"t","type":"quantitative","scale":{"domain":[-3.5,4.15],"nice":false,"zero":false},"axis":null},"y":{"field":"deg","type":"quantitative","scale":{"domain":[-10.8,75.6],"nice":false,"zero":false},"axis":null}}}
 ]},
 {"width":388,"height":72,"layer":[
  {"data":{"name":"one"},"mark":{"type":"rule","stroke":"#cfeef1","strokeWidth":6},"encoding":{"x":{"datum":0,"axis":null}}},
  {"data":{"name":"tc"},"transform":[{"filter":"datum.s==550"}],"mark":{"type":"line","color":"#858585","strokeWidth":3.5},"encoding":{"x":{"field":"t","type":"quantitative","scale":{"domain":[-14.2,9.3],"nice":false,"zero":false},"axis":null},"y":{"field":"deg","type":"quantitative","scale":{"domain":[-10.8,75.6],"nice":false,"zero":false},"axis":null}}},
  {"data":{"name":"one"},"mark":{"type":"rule","stroke":"#111111","strokeWidth":2.5},"encoding":{"x":{"datum":6.6,"axis":null},"y":{"datum":-2,"axis":null},"y2":{"datum":52}}},
  {"data":{"name":"one"},"mark":{"type":"rule","stroke":"#111111","strokeWidth":2.5},"encoding":{"x":{"datum":6.15,"axis":null},"x2":{"datum":6.6},"y":{"datum":52,"axis":null}}},
  {"data":{"name":"one"},"mark":{"type":"rule","stroke":"#111111","strokeWidth":2.5},"encoding":{"x":{"datum":6.15,"axis":null},"x2":{"datum":6.6},"y":{"datum":-2,"axis":null}}},
  {"data":{"name":"one"},"mark":{"type":"text","text":"54º","fontSize":20,"align":"left"},"encoding":{"x":{"datum":7.2,"axis":null},"y":{"datum":25,"axis":null}}}
 ]},
 {"width":190,"height":72,"data":{"name":"one"},"mark":{"type":"text","text":""},"encoding":{"x":{"datum":0,"axis":null},"y":{"datum":0,"axis":null}}}
],
"resolve":{"scale":{"color":"shared","shape":"shared"}}
}
